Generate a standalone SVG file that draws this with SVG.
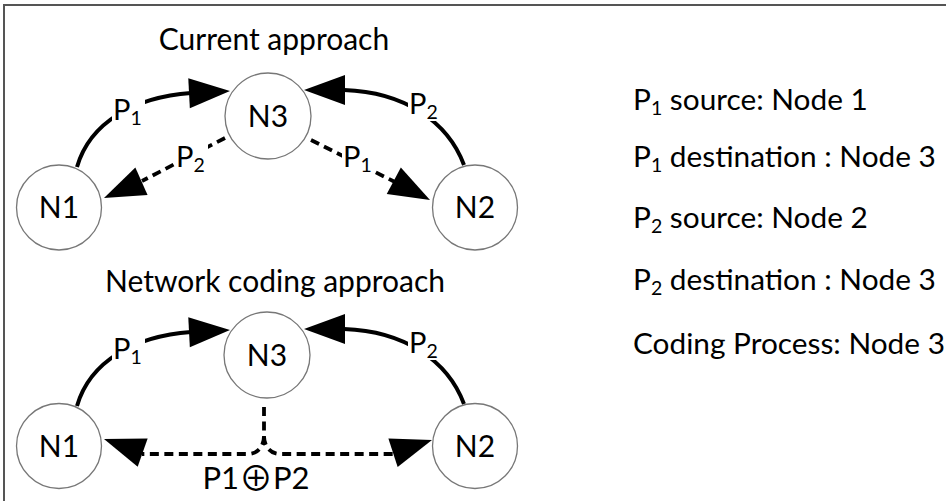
<svg xmlns="http://www.w3.org/2000/svg" xmlns:xlink="http://www.w3.org/1999/xlink" width="946" height="501" viewBox="0 0 946 501">
  <style>
    text { font-family: Lato, "Liberation Sans", "DejaVu Sans", sans-serif; fill: #000; }
    .title { font-size: 30px; text-anchor: middle; }
    .info { font-size: 29.8px; }
    .nlabel { font-size: 30px; text-anchor: middle; }
    .plabel { font-size: 29px; }
    .sub { font-size: 19.5px; }
    .node { fill: #fff; stroke: #777; stroke-width: 1.3; }
    .solid { fill: none; stroke: #000; stroke-width: 4; }
    .dashed { fill: none; stroke: #000; stroke-width: 3.8; stroke-dasharray: 9 5.5; }
    .bg { fill: #fff; }
    .xor { font-family: "Noto Sans CJK SC", "DejaVu Sans", sans-serif; font-size: 34px; }
  </style>
  <defs>
    <polygon id="ah" points="0,0 -41,-15 -41,15" fill="#000"/>
  </defs>

  <rect width="946" height="501" fill="#fff"/>
  <path d="M4,501 V5 H946" fill="none" stroke="#555" stroke-width="2"/>

  <text class="title" x="274" y="50">Current approach</text>
  <text class="title" x="275" y="292">Network coding approach</text>

  <g id="connectors">
    <!-- current approach -->
    <path class="solid" d="M77,167 C90,122 135,97 191,93"/>
    <use xlink:href="#ah" transform="translate(230,91) rotate(-3)"/>
    <path class="solid" d="M464,165 C448,122 405,92 344,90"/>
    <use xlink:href="#ah" transform="translate(304,90) rotate(180)"/>
    <path class="dashed" d="M225,138 L142,181"/>
    <use xlink:href="#ah" transform="translate(104,198) rotate(156)"/>
    <path class="dashed" d="M311,140 L395,182"/>
    <use xlink:href="#ah" transform="translate(430,200) rotate(28)"/>

    <!-- network coding approach -->
    <path class="solid" d="M77,406 C90,361 135,336 191,332"/>
    <use xlink:href="#ah" transform="translate(230,330) rotate(-3)"/>
    <path class="solid" d="M464,404 C448,361 405,331 344,329"/>
    <use xlink:href="#ah" transform="translate(304,329) rotate(180)"/>
    <path class="dashed" d="M264,407 V436 C264,446 258,454 248,454 H142 M264,436 C264,446 270,454 280,454 H393"/>
    <use xlink:href="#ah" transform="translate(104,439) rotate(199.4)"/>
    <use xlink:href="#ah" transform="translate(432,440) rotate(-18)"/>

    <!-- connector labels -->
    <g id="lbl-top-p1">
      <rect class="bg" x="112" y="97" width="33" height="30"/>
      <text class="plabel" x="113" y="120">P<tspan class="sub" dy="5">1</tspan></text>
    </g>
    <g id="lbl-top-p2">
      <rect class="bg" x="408" y="91" width="33" height="30"/>
      <text class="plabel" x="409" y="114">P<tspan class="sub" dy="5">2</tspan></text>
    </g>
    <g id="lbl-top-dp2">
      <rect class="bg" x="175" y="144" width="33" height="30"/>
      <text class="plabel" x="176" y="167">P<tspan class="sub" dy="5">2</tspan></text>
    </g>
    <g id="lbl-top-dp1">
      <rect class="bg" x="342" y="144" width="33" height="30"/>
      <text class="plabel" x="343" y="167">P<tspan class="sub" dy="5">1</tspan></text>
    </g>
    <g id="lbl-bot-p1">
      <rect class="bg" x="112" y="336" width="33" height="30"/>
      <text class="plabel" x="113" y="359">P<tspan class="sub" dy="5">1</tspan></text>
    </g>
    <g id="lbl-bot-p2">
      <rect class="bg" x="408" y="330" width="33" height="30"/>
      <text class="plabel" x="409" y="353">P<tspan class="sub" dy="5">2</tspan></text>
    </g>
    <text id="lbl-xor" x="256" y="489" text-anchor="middle" font-size="31">P1<tspan class="xor" dy="2">⊕</tspan><tspan dy="-2">P2</tspan></text>
  </g>

  <g id="n3-current">
    <circle class="node" cx="268" cy="116" r="43"/>
    <text class="nlabel" x="268" y="127">N3</text>
  </g>
  <g id="n1-current">
    <circle class="node" cx="59" cy="207.5" r="42.5"/>
    <text class="nlabel" x="59" y="218">N1</text>
  </g>
  <g id="n2-current">
    <circle class="node" cx="475" cy="207.5" r="42.5"/>
    <text class="nlabel" x="475" y="218">N2</text>
  </g>
  <g id="n3-coding">
    <circle class="node" cx="267" cy="355" r="43"/>
    <text class="nlabel" x="267" y="366">N3</text>
  </g>
  <g id="n1-coding">
    <circle class="node" cx="59" cy="446" r="42.5"/>
    <text class="nlabel" x="59" y="456.5">N1</text>
  </g>
  <g id="n2-coding">
    <circle class="node" cx="475" cy="446" r="42.5"/>
    <text class="nlabel" x="475" y="456.5">N2</text>
  </g>

  <g id="legend">
    <text class="info" x="633" y="110">P<tspan class="sub" dy="5">1</tspan><tspan dy="-5"> source: Node 1</tspan></text>
    <text class="info" x="633" y="167">P<tspan class="sub" dy="5">1</tspan><tspan dy="-5"> destination : Node 3</tspan></text>
    <text class="info" x="633" y="228">P<tspan class="sub" dy="5">2</tspan><tspan dy="-5"> source: Node 2</tspan></text>
    <text class="info" x="633" y="290">P<tspan class="sub" dy="5">2</tspan><tspan dy="-5"> destination : Node 3</tspan></text>
    <text class="info" x="633" y="354">Coding Process: Node 3</text>
  </g>
</svg>
